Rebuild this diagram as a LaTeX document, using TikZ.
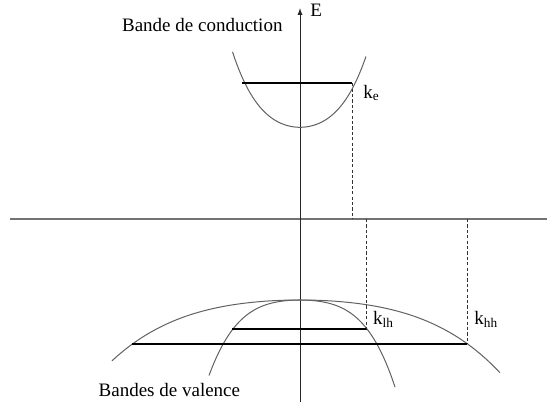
\documentclass[tikz,border=0pt]{standalone}
\usepackage{fontspec}
\setmainfont{Liberation Serif}
\usetikzlibrary{arrows.meta}

\begin{document}
\begin{tikzpicture}[
  x=0.5pt,y=-0.5pt,
  font=\fontsize{9.5}{11}\selectfont,
  band/.style={draw=black!62,line width=0.5pt},
  kaxis/.style={draw=black!55,line width=0.6pt},
  eaxis/.style={draw=black!85,line width=0.5pt},
  level/.style={draw=black,line width=1.2pt},
  guide/.style={draw=black!80,line width=0.4pt,dash pattern=on 1.6pt off 1.1pt},
  lbl/.style={inner sep=0pt,anchor=base west}
]
\useasboundingbox (0,0) rectangle (547,405);

% ---- axes ----
\coordinate (Ebot) at (300,402);
\coordinate (Etop) at (300,8);
\coordinate (kl)   at (10,219);
\coordinate (kr)   at (547,219);
\draw[kaxis] (kl) -- (kr);
\draw[eaxis,-{Latex[length=3.5pt,width=2.6pt]}] (Ebot) -- (Etop);
\node[lbl] (lblE) at (310,16.7) {E};

% ---- bands ----
\draw[band] plot[domain=-0.675:0.66,samples=60,smooth]
  ({300+100*\x},{127.3-105*\x*\x-133*\x*\x*\x*\x});
\draw[band] plot[domain=-0.91:0.95,samples=60,smooth]
  ({300+100*\x},{300+33*\x*\x+70.3*\x*\x*\x*\x});
\draw[band] plot[domain=-1.88:2.0,samples=80,smooth]
  ({300+100*\x},{300+9.73*\x*\x+2.115*\x*\x*\x*\x});

% ---- filled levels ----
\coordinate (eL)  at (242,83.3);
\coordinate (eR)  at (352.3,83.3);
\coordinate (lhL) at (232.3,329.3);
\coordinate (lhR) at (366.7,329.3);
\coordinate (hhL) at (131.7,344.3);
\coordinate (hhR) at (467.3,344.3);
\draw[level] (eL) -- (eR);
\draw[level] (lhL) -- (lhR);
\draw[level] (hhL) -- (hhR);

% ---- wave vectors ----
\coordinate (keK)  at (352.3,219);
\coordinate (klhK) at (366.7,219);
\coordinate (khhK) at (467.3,219);
\draw[guide] (eR) -- (keK);
\draw[guide] (klhK) -- (lhR);
\draw[guide] (khhK) -- (hhR);
\node[lbl] (lblKe)  at (363,98.3)   {k\textsubscript{e}};
\node[lbl] (lblKlh) at (372.7,324.3) {k\textsubscript{lh}};
\node[lbl] (lblKhh) at (474,324.3)   {k\textsubscript{hh}};

% ---- band names ----
\node[lbl] (lblCond) at (121.7,31.7) {Bande de conduction};
\node[lbl] (lblVal)  at (98.3,396.7) {Bandes de valence};
\end{tikzpicture}
\end{document}
